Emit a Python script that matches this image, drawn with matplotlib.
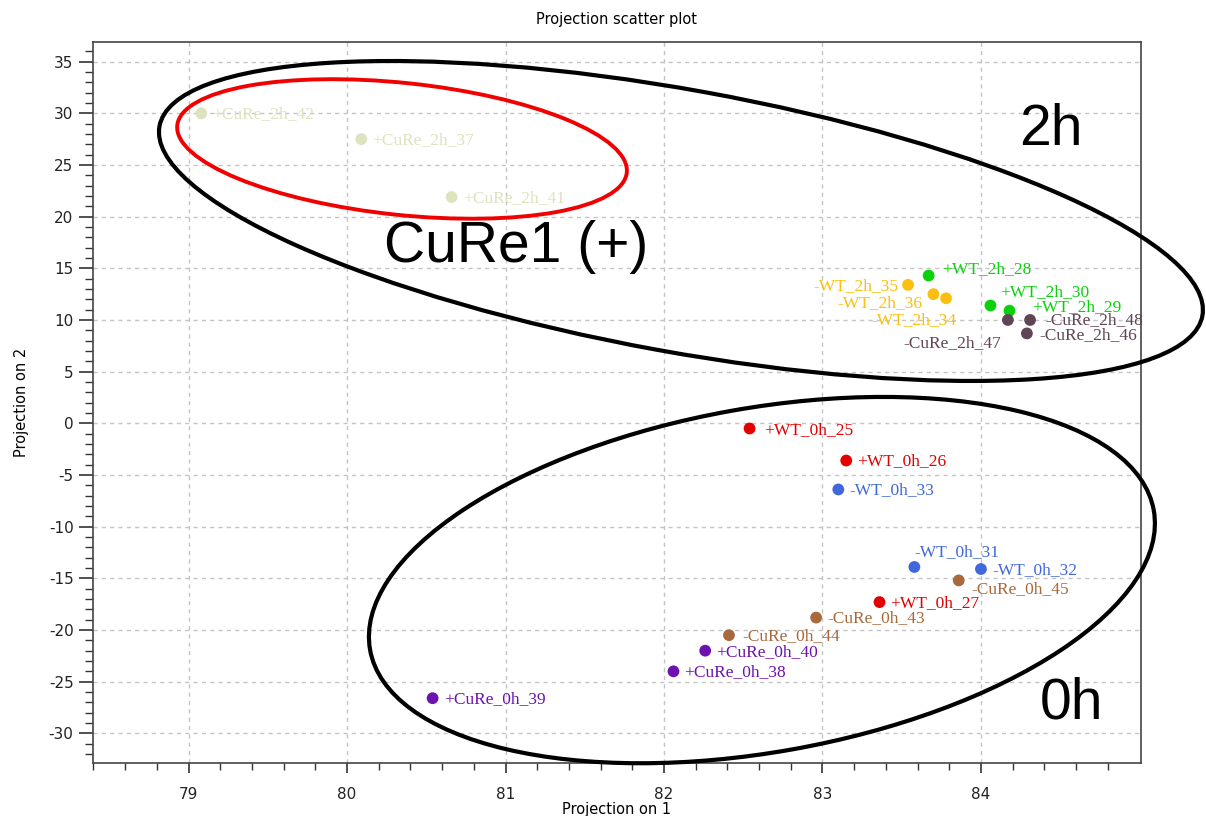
import matplotlib
matplotlib.use("Agg")
import matplotlib.pyplot as plt
from matplotlib.patches import Ellipse
from matplotlib.ticker import MultipleLocator, FixedLocator
from matplotlib import transforms
import numpy as np

plt.rcParams["axes.unicode_minus"] = False

# --- data ---
labels = ["+CuRe_2h_42", "+CuRe_2h_37", "+CuRe_2h_41",
          "+WT_2h_28", "-WT_2h_35", "-WT_2h_36", "-WT_2h_34",
          "+WT_2h_30", "+WT_2h_29",
          "-CuRe_2h_47", "-CuRe_2h_48", "-CuRe_2h_46",
          "+WT_0h_25", "+WT_0h_26", "-WT_0h_33",
          "-WT_0h_31", "-WT_0h_32", "-CuRe_0h_45", "+WT_0h_27",
          "-CuRe_0h_43", "-CuRe_0h_44", "+CuRe_0h_40", "+CuRe_0h_38", "+CuRe_0h_39"]
proj1 = [79.08, 80.09, 80.66,
         83.67, 83.54, 83.70, 83.78,
         84.06, 84.18,
         84.17, 84.31, 84.29,
         82.54, 83.15, 83.10,
         83.58, 84.00, 83.86, 83.36,
         82.96, 82.41, 82.26, 82.06, 80.54]
proj2 = [30.0, 27.5, 21.9,
         14.3, 13.4, 12.5, 12.1,
         11.4, 10.9,
         10.0, 10.0, 8.7,
         -0.5, -3.6, -6.4,
         -13.9, -14.1, -15.2, -17.3,
         -18.8, -20.5, -22.0, -24.0, -26.6]

group_colors = {
    "+CuRe_2h": "#dde2bf",
    "+WT_2h": "#0ad20a",
    "-WT_2h": "#fcbf10",
    "-CuRe_2h": "#5f4555",
    "+WT_0h": "#e20000",
    "-WT_0h": "#4068dc",
    "-CuRe_0h": "#a8693c",
    "+CuRe_0h": "#6c12b0",
}

# label placement (offset in pixels, horizontal alignment)
label_pos = {
    "+WT_2h_28": (13, 6, "left"),
    "-WT_2h_35": (-10, -1, "right"),
    "-WT_2h_36": (-11, -9, "right"),
    "-WT_2h_34": (10, -22, "right"),
    "+WT_2h_30": (10, 13, "left"),
    "+WT_2h_29": (23, 4, "left"),
    "-CuRe_2h_47": (-7, -23, "right"),
    "-CuRe_2h_48": (15, 0, "left"),
    "-CuRe_2h_46": (12, -2, "left"),
    "+WT_0h_25": (15, -2, "left"),
    "-WT_0h_31": (0, 15, "left"),
    "-CuRe_0h_45": (13, -9, "left"),
    "-CuRe_0h_44": (13, -1, "left"),
}

fig = plt.figure(figsize=(12.06, 8.16), dpi=100)
ax = fig.add_axes([93 / 1206, 1 - 763 / 816, (1141 - 93) / 1206, (763 - 42) / 816])

ax.set_xlim(78.397, 85.01)
ax.set_ylim(-32.87, 36.9)
ax.xaxis.set_major_locator(FixedLocator(np.arange(79, 85)))
ax.xaxis.set_minor_locator(FixedLocator(np.arange(78.4, 84.9, 0.2)))
ax.yaxis.set_major_locator(MultipleLocator(5))
ax.yaxis.set_minor_locator(MultipleLocator(1))
ax.grid(True, which="major", color="#c4c4c4", linestyle=(0, (3, 3)), linewidth=1.0)
ax.set_axisbelow(True)
for s in ax.spines.values():
    s.set_color("#444444")
    s.set_linewidth(1.2)
ax.tick_params(which="both", direction="out", color="#333333",
               labelsize=11, labelcolor="#222222")
ax.tick_params(axis="y", which="major", length=10, width=1.2, pad=4)
ax.tick_params(axis="y", which="minor", length=6, width=1.0)
ax.tick_params(axis="x", which="major", length=7, width=1.2, pad=10)
ax.tick_params(axis="x", which="minor", length=5, width=1.0)

for lab, x, y in zip(labels, proj1, proj2):
    grp = lab.rsplit("_", 1)[0]
    col = group_colors[grp]
    ax.scatter(x, y, s=72, color=col, edgecolors="none", zorder=3)
    dx, dy, ha = label_pos.get(lab, (11, -1, "left"))
    ax.annotate(lab, (x, y), xytext=(dx, dy), textcoords="offset pixels",
                ha=ha, va="center", color=col, fontsize=12.5,
                family=["Liberation Serif", "DejaVu Serif"], zorder=4)


def ring(cx, cy, w_px, h_px, angle, color, lw):
    # ellipse drawn in screen pixels, centred on a data point
    tr = transforms.ScaledTranslation(cx, cy, ax.transData)
    e = Ellipse((0, 0), w_px, h_px, angle=angle, fill=False, edgecolor=color,
                linewidth=lw, transform=tr, clip_on=False, zorder=5)
    fig.add_artist(e)


ring(82.107, 19.58, 1060, 262, -10.3, "black", 3.0)
ring(80.347, 26.55, 452, 132, -6.0, "#f00000", 2.8)
ring(82.618, -15.17, 796, 344, 10.1, "black", 3.0)

big = dict(fontsize=41, family=["Liberation Sans", "DejaVu Sans"], ha="center",
           va="center", color="black", zorder=6)
ax.text(84.44, 28.4, "2h", **big)
ax.text(81.07, 17.07, "CuRe1 (+)", **big)
ax.text(84.57, -27.15, "0h", **big)

narrow = ["Liberation Sans Narrow", "DejaVu Sans"]
ax.set_title("Projection scatter plot", fontsize=10.5, family=narrow, pad=13)
ax.set_xlabel("Projection on 1", fontsize=10.5, family=narrow, labelpad=0)
ax.set_ylabel("Projection on 2", fontsize=10.5, family=narrow, labelpad=14)

fig.savefig("out.png", dpi=100)
